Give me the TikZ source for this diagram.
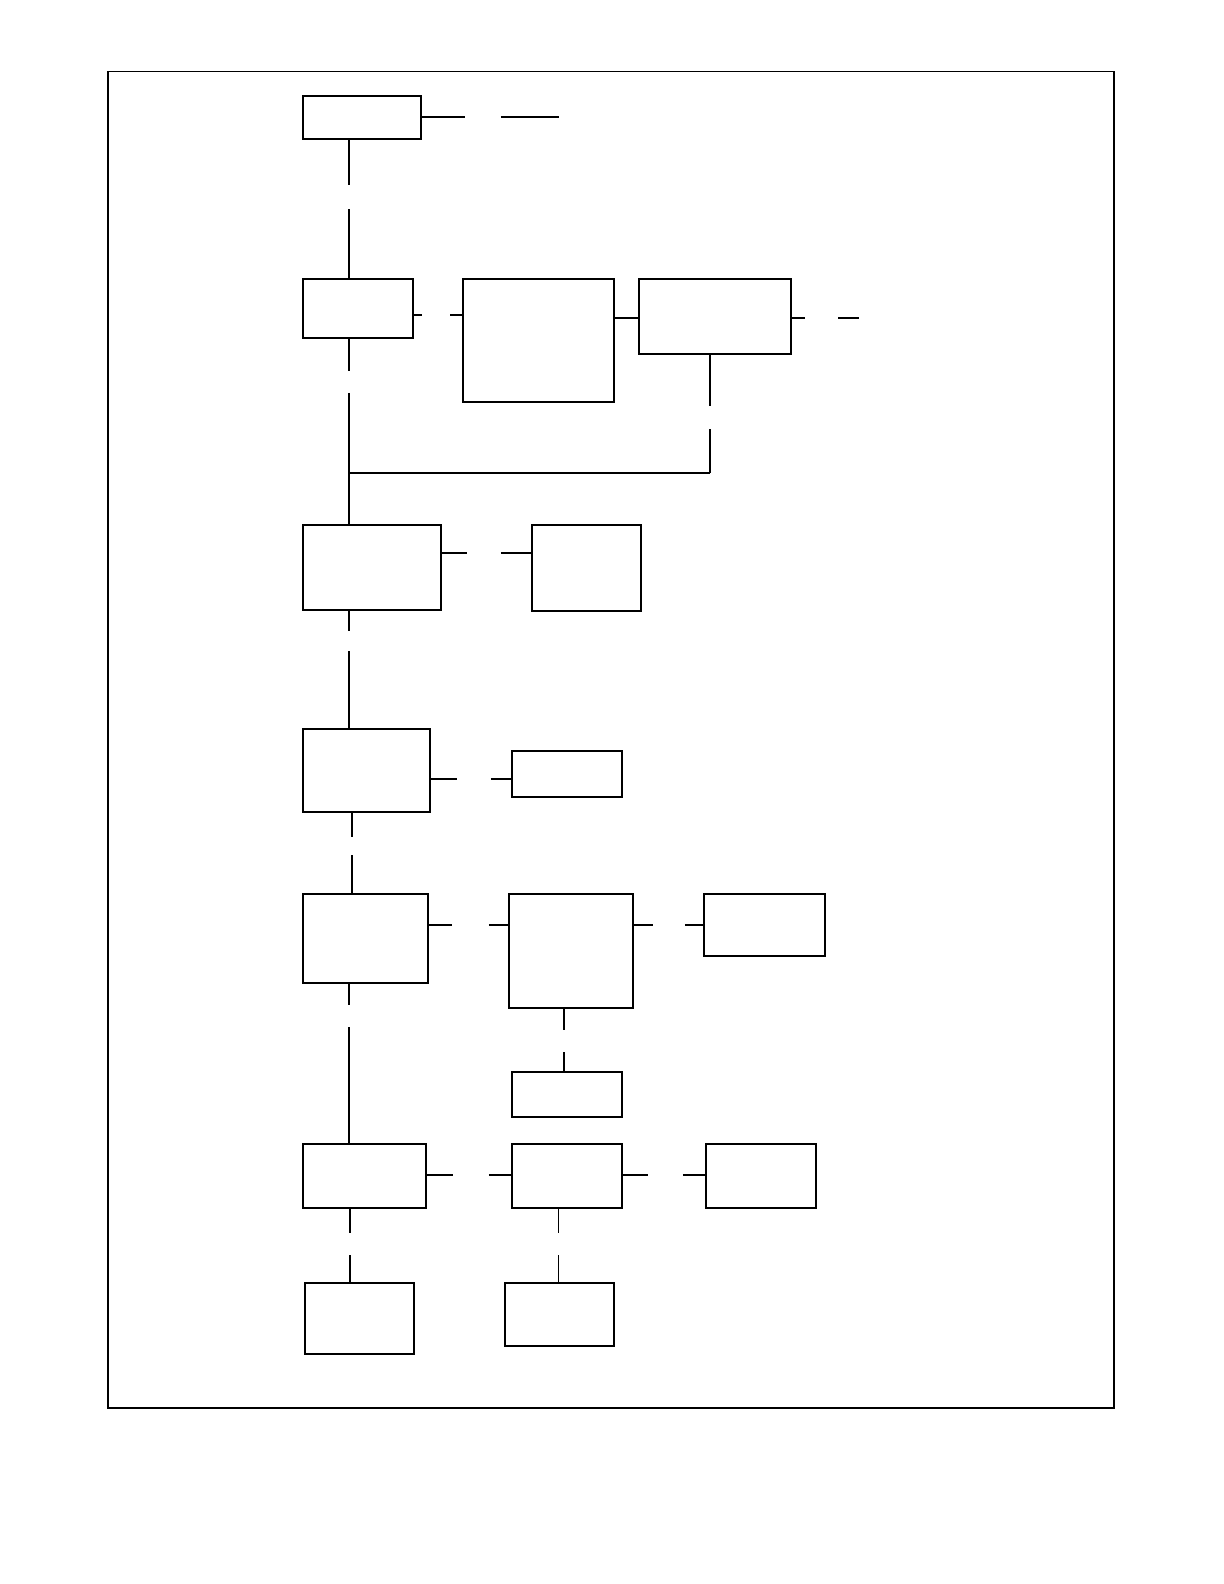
\documentclass[tikz,border=0pt]{standalone}
\usetikzlibrary{calc}
\newcommand\gapseg[5][conn]{%
  \pgfmathsetlengthmacro\gapa{#4*1.01bp}%
  \pgfmathsetlengthmacro\gapb{#5*1.01bp}%
  \draw[#1] (#2) -- ($(#2)!\gapa!(#3)$);
  \draw[#1] ($(#2)!\gapb!(#3)$) -- (#3);}
\begin{document}
\begin{tikzpicture}[x=1.01bp,y=-1.01bp,
  box/.style={draw, line width=2bp, inner sep=0pt, outer sep=0pt, anchor=north west},
  sz/.style 2 args={minimum width={#1*1.01bp}, minimum height={#2*1.01bp}},
  conn/.style={line width=2bp},
  thinconn/.style={line width=1.3bp},
  frame/.style={line width=1.3bp}]
\useasboundingbox (0,0) rectangle (1211.88,1568.32);
\draw[frame] (107,71) rectangle (1103,1394);
% boxes
\node[box, sz={117}{43}] (A) at (300,95) {};
\node[box, sz={109}{59}] (B) at (300,276) {};
\node[box, sz={150}{122}] (C) at (458,276) {};
\node[box, sz={150}{74}] (D) at (633,276) {};
\node[box, sz={137}{84}] (E) at (300,520) {};
\node[box, sz={108}{85}] (F) at (527,520) {};
\node[box, sz={126}{82}] (G) at (300,722) {};
\node[box, sz={109}{45}] (H) at (507,744) {};
\node[box, sz={124}{88}] (I) at (300,885) {};
\node[box, sz={123}{113}] (J) at (504,885) {};
\node[box, sz={120}{62}] (K) at (697,885) {};
\node[box, sz={109}{45}] (L) at (507,1061) {};
\node[box, sz={122}{63}] (M) at (300,1133) {};
\node[box, sz={109}{63}] (N) at (507,1133) {};
\node[box, sz={109}{63}] (O) at (699,1133) {};
\node[box, sz={108}{71}] (P) at (302,1270) {};
\node[box, sz={108}{63}] (Q) at (500,1270) {};
% helper coordinates
\coordinate (x346) at (346,0);
\coordinate (x347) at (347,0);
\coordinate (x349) at (349,0);
\coordinate (x553) at (553,0);
\coordinate (x558) at (558,0);
\coordinate (x703) at (703,0);
\coordinate (y116) at (0,116);
\coordinate (y312) at (0,312);
\coordinate (y315) at (0,315);
\coordinate (y548) at (0,548);
\coordinate (y771) at (0,771);
\coordinate (y916) at (0,916);
\coordinate (y1163) at (0,1163);
\coordinate (aend) at (553,116);
\coordinate (dend) at (850,315);
\coordinate (junc) at (346,468);
\coordinate (jturn) at (703,468);
% connectors
\gapseg{A.east |- y116}{aend}{43}{79}
\gapseg{A.south -| x346}{B.north -| x346}{45}{69}
\gapseg{B.east |- y312}{C.west |- y312}{9}{37}
\draw[conn] (C.east |- y315) -- (D.west |- y315);
\gapseg{D.east |- y315}{dend}{14}{47}
\gapseg{B.south -| x346}{junc}{32}{54}
\draw[conn] (junc) -- (E.north -| x346);
\gapseg{D.south -| x703}{jturn}{52}{75}
\draw[conn] (jturn) -- (junc);
\gapseg{E.east |- y548}{F.west |- y548}{25}{59}
\gapseg{E.south -| x346}{G.north -| x346}{21}{41}
\gapseg{G.east |- y771}{H.west |- y771}{26}{60}
\gapseg{G.south -| x349}{I.north -| x349}{25}{43}
\gapseg{I.east |- y916}{J.west |- y916}{24}{60}
\gapseg{J.east |- y916}{K.west |- y916}{20}{51}
\gapseg{J.south -| x558}{L.north -| x558}{22}{44}
\gapseg{I.south -| x346}{M.north -| x346}{22}{44}
\gapseg{M.east |- y1163}{N.west |- y1163}{27}{62}
\gapseg{N.east |- y1163}{O.west |- y1163}{26}{60}
\gapseg{M.south -| x347}{P.north -| x347}{25}{47}
\gapseg[thinconn]{N.south -| x553}{Q.north -| x553}{25}{47}
\end{tikzpicture}
\end{document}
